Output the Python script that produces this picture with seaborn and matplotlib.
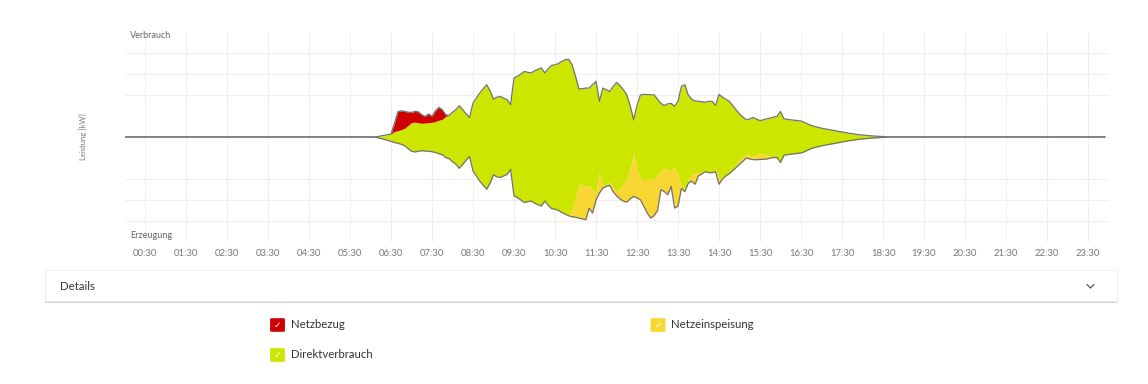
import numpy as np
import matplotlib
matplotlib.use("Agg")
import matplotlib.pyplot as plt
from matplotlib.patches import FancyBboxPatch, Rectangle
from matplotlib.lines import Line2D
import seaborn as sns

# Leistung in 5-Minuten-Schritten, eine Zeile pro Stunde (00:00 ... 23:55)
verbrauch = [
    0, 0, 0, 0, 0, 0, 0, 0, 0, 0, 0, 0,                                      # 00
    0, 0, 0, 0, 0, 0, 0, 0, 0, 0, 0, 0,                                      # 01
    0, 0, 0, 0, 0, 0, 0, 0, 0, 0, 0, 0,                                      # 02
    0, 0, 0, 0, 0, 0, 0, 0, 0, 0, 0, 0,                                      # 03
    0, 0, 0, 0, 0, 0, 0, 0, 0, 0, 0, 0,                                      # 04
    0, 0, 0, 0, 0, 0, 0, 0, 0, 0, 0, 0,                                      # 05
    0, 0, 0.02, 0.05, 0.08, 0.11, 0.14, 0.65, 1.2, 1.25, 1.22, 1.18,         # 06
    1.17, 1.22, 1.2, 1.06, 0.98, 1.1, 0.98, 1.25, 1.41, 1.3, 1.06, 1.03,     # 07
    1.18, 1.3, 1.49, 1.3, 1.1, 0.93, 1.62, 1.86, 2.1, 2.3, 2.49, 2.2,        # 08
    1.8, 1.9, 1.93, 1.85, 1.78, 1.54, 2.81, 2.89, 3.0, 3.12, 3.08, 3.05,     # 09
    3.15, 3.22, 3.29, 3.05, 3.25, 3.41, 3.44, 3.5, 3.6, 3.68, 3.7, 3.44,     # 10
    2.9, 2.29, 2.3, 2.33, 2.33, 2.5, 2.65, 1.7, 2.33, 2.25, 2.17, 2.4,       # 11
    2.6, 2.45, 2.25, 2.01, 1.5, 0.82, 1.5, 2.0, 2.03, 2.02, 2.01, 2.01,      # 12
    1.8, 1.6, 1.5, 1.58, 1.6, 1.46, 1.7, 2.41, 2.49, 2.0, 1.8, 1.72,         # 13
    1.7, 1.68, 1.65, 1.7, 1.7, 1.5, 2.03, 1.9, 1.8, 1.7, 1.5, 1.3,           # 14
    1.1, 0.95, 0.82, 0.86, 0.93, 0.85, 0.78, 0.82, 0.87, 0.9, 0.95, 0.98,    # 15
    1.22, 0.87, 0.84, 0.82, 0.8, 0.78, 0.76, 0.7, 0.62, 0.55, 0.5, 0.46,     # 16
    0.42, 0.39, 0.36, 0.33, 0.3, 0.27, 0.24, 0.21, 0.18, 0.16, 0.13, 0.11,   # 17
    0.09, 0.08, 0.06, 0.05, 0.04, 0.03, 0.02, 0.01, 0, 0, 0, 0,              # 18
    0, 0, 0, 0, 0, 0, 0, 0, 0, 0, 0, 0,                                      # 19
    0, 0, 0, 0, 0, 0, 0, 0, 0, 0, 0, 0,                                      # 20
    0, 0, 0, 0, 0, 0, 0, 0, 0, 0, 0, 0,                                      # 21
    0, 0, 0, 0, 0, 0, 0, 0, 0, 0, 0, 0,                                      # 22
    0, 0, 0, 0, 0, 0, 0, 0, 0, 0, 0, 0,                                      # 23
]

erzeugung = [
    0, 0, 0, 0, 0, 0, 0, 0, 0, 0, 0, 0,                                      # 00
    0, 0, 0, 0, 0, 0, 0, 0, 0, 0, 0, 0,                                      # 01
    0, 0, 0, 0, 0, 0, 0, 0, 0, 0, 0, 0,                                      # 02
    0, 0, 0, 0, 0, 0, 0, 0, 0, 0, 0, 0,                                      # 03
    0, 0, 0, 0, 0, 0, 0, 0, 0, 0, 0, 0,                                      # 04
    0, 0, 0, 0, 0, 0, 0, 0, 0, 0, 0, 0,                                      # 05
    0, 0, 0.03, 0.07, 0.11, 0.16, 0.21, 0.26, 0.3, 0.35, 0.42, 0.55,         # 06
    0.68, 0.71, 0.68, 0.65, 0.67, 0.68, 0.7, 0.74, 0.8, 0.84, 0.98, 1.03,    # 07
    1.18, 1.3, 1.49, 1.3, 1.1, 0.93, 1.62, 1.86, 2.1, 2.3, 2.49, 2.2,        # 08
    1.8, 1.9, 1.93, 1.85, 1.78, 1.54, 2.81, 2.89, 3.0, 3.12, 3.08, 3.05,     # 09
    3.15, 3.22, 3.29, 3.05, 3.25, 3.41, 3.44, 3.5, 3.6, 3.68, 3.75, 3.8,     # 10
    3.82, 3.86, 3.9, 3.94, 3.4, 3.62, 3.0, 2.67, 2.43, 2.35, 2.3, 2.6,       # 11
    2.8, 2.95, 3.05, 3.1, 2.95, 2.83, 2.9, 2.99, 3.3, 3.62, 3.86, 3.75,      # 12
    3.5, 2.51, 2.6, 2.75, 2.35, 3.38, 3.3, 2.45, 2.6, 2.2, 2.1, 2.25,        # 13
    1.85, 1.75, 1.65, 1.7, 1.7, 1.65, 2.25, 2.0, 1.85, 1.75, 1.6, 1.45,      # 14
    1.3, 1.15, 1.0, 1.05, 1.08, 1.08, 1.07, 1.06, 1.05, 1.0, 0.98, 0.98,     # 15
    1.22, 0.87, 0.84, 0.82, 0.8, 0.78, 0.76, 0.7, 0.62, 0.55, 0.5, 0.46,     # 16
    0.42, 0.39, 0.36, 0.33, 0.3, 0.27, 0.24, 0.21, 0.18, 0.16, 0.13, 0.11,   # 17
    0.09, 0.08, 0.06, 0.05, 0.04, 0.03, 0.02, 0.01, 0, 0, 0, 0,              # 18
    0, 0, 0, 0, 0, 0, 0, 0, 0, 0, 0, 0,                                      # 19
    0, 0, 0, 0, 0, 0, 0, 0, 0, 0, 0, 0,                                      # 20
    0, 0, 0, 0, 0, 0, 0, 0, 0, 0, 0, 0,                                      # 21
    0, 0, 0, 0, 0, 0, 0, 0, 0, 0, 0, 0,                                      # 22
    0, 0, 0, 0, 0, 0, 0, 0, 0, 0, 0, 0,                                      # 23
]

tick_labels = ["00:30", "01:30", "02:30", "03:30", "04:30", "05:30", "06:30", "07:30",
               "08:30", "09:30", "10:30", "11:30", "12:30", "13:30", "14:30", "15:30",
               "16:30", "17:30", "18:30", "19:30", "20:30", "21:30", "22:30", "23:30"]
legend_labels = ["Netzbezug", "Netzeinspeisung", "Direktverbrauch"]

RED = "#cf0000"
GREEN = "#cde600"
YELLOW = "#f8d733"
OUTLINE = "#727272"

sns.set_theme(style="whitegrid")
plt.rcParams["font.family"] = ["Lato", "DejaVu Sans"]

W, H = 1148, 384
fig = plt.figure(figsize=(W / 100, H / 100), dpi=100)
fig.patch.set_facecolor("white")


def fx(x):
    return x / W


def fy(y):
    return 1 - y / H


ax = fig.add_axes([fx(124.5), fy(242), (1108.5 - 124.5) / W, 210 / H])
ax.set_facecolor("white")

v = np.array(verbrauch, dtype=float)
e = np.array(erzeugung, dtype=float)
t = np.arange(len(v)) * 5 / 60
direkt = np.minimum(v, e)

# Direktverbrauch symmetrisch um 0, Netzbezug oben, Netzeinspeisung unten
ax.fill_between(t, -direkt, direkt, color=GREEN, lw=0)
ax.fill_between(t, direkt, v, color=RED, lw=0)
ax.fill_between(t, -direkt, -e, color=YELLOW, lw=0)
sns.lineplot(x=t, y=v, ax=ax, color=OUTLINE, linewidth=0.9)
sns.lineplot(x=t, y=-e, ax=ax, color=OUTLINE, linewidth=0.9)

ax.set_xlim(0, 24)
ax.set_ylim(-5, 5)
ax.set_xticks(np.arange(24) + 0.5)
ax.set_xticklabels(tick_labels)
ax.set_yticks([-4, -3, -2, 2, 3, 4])
ax.set_yticklabels([])
ax.tick_params(axis="x", length=0, pad=5, labelsize=6.8, labelcolor="#777777")
ax.tick_params(axis="y", length=0)
ax.grid(True, color="#efefef", linewidth=0.8)
ax.set_axisbelow(True)
for s in ax.spines.values():
    s.set_visible(False)
ax.set_xlabel("")
ax.set_ylabel("")

fig.text(fx(130), fy(36), "Verbrauch", fontsize=6.5, color="#666666", va="center", ha="left")
fig.text(fx(130), fy(235), "Erzeugung", fontsize=6.5, color="#666666", va="center", ha="left")
fig.text(fx(83), fy(137), "Leistung [kW]", fontsize=5.5, color="#777777",
         rotation=90, va="center", ha="center")

# Details-Leiste
shadow = Rectangle((fx(45), fy(303)), fx(1117) - fx(45), fy(271) - fy(303),
                   transform=fig.transFigure, facecolor="#d6d6d6", edgecolor="none")
fig.patches.append(shadow)
panel = Rectangle((fx(45), fy(301)), fx(1117) - fx(45), fy(270) - fy(301),
                  transform=fig.transFigure, facecolor="white", edgecolor="#ededed", lw=0.6)
fig.patches.append(panel)
fig.text(fx(60), fy(286), "Details", fontsize=8.3, color="#333333", va="center", ha="left")
fig.lines.append(Line2D([fx(1087), fx(1090.5), fx(1094)], [fy(284.5), fy(288), fy(284.5)],
                        transform=fig.transFigure, color="#555555", lw=0.9))

# Legende mit Checkboxen
legend_pos = [(277.5, 325), (658, 325), (277.5, 355)]
legend_colors = [RED, YELLOW, GREEN]
for label, col, (cx, cy) in zip(legend_labels, legend_colors, legend_pos):
    box = FancyBboxPatch((fx(cx - 6.5), fy(cy + 6.5)), fx(13), 13 / H,
                         boxstyle="round,pad=0.0008,rounding_size=0.002",
                         transform=fig.transFigure, facecolor=col, edgecolor="none")
    fig.patches.append(box)
    fig.text(fx(cx), fy(cy), "\u2713", fontsize=6.5, color="white",
             va="center", ha="center", family="DejaVu Sans")
    fig.text(fx(cx + 13.5), fy(cy), label, fontsize=8.2, color="#333333",
             va="center", ha="left")

fig.savefig("out.png", dpi=100, facecolor="white")
